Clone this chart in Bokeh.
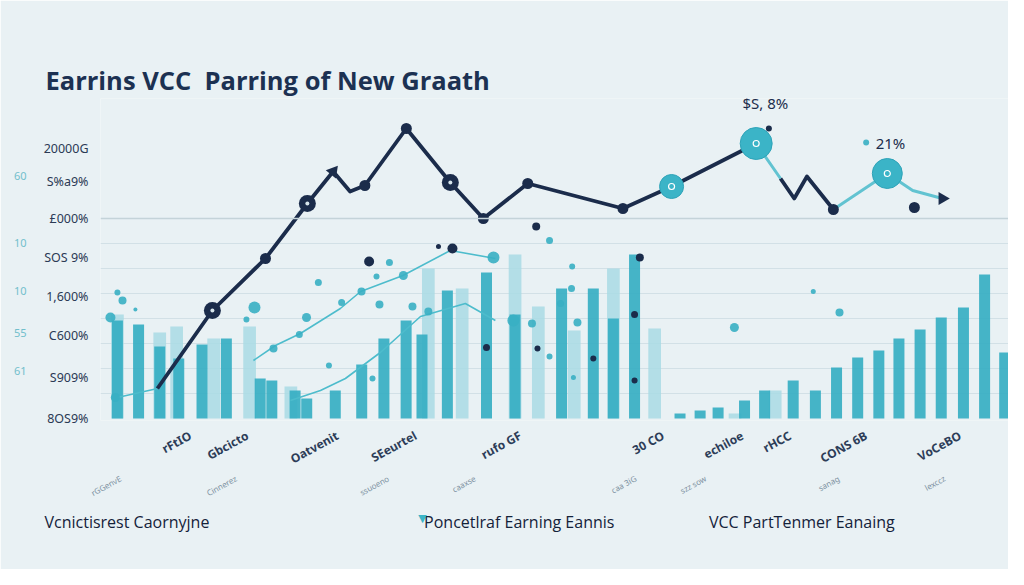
import math
from bokeh.plotting import figure
from bokeh.models import Range1d, FixedTicker, LinearAxis, Span, Label, Title
from bokeh.embed import file_html
from bokeh.resources import INLINE

NAN = float("nan")

# ---------------- data ----------------
title_text = "Earrins VCC\u00a0 Parring of New Graath"
legend_texts = ["Vcnictisrest Caornyjne", "Poncetlraf Earning Eannis", "VCC PartTenmer Eanaing"]
legend_pos = [0.45, 19.0, 32.36]
legend_marker_pos = [14.42]

# left (navy) y tick labels
y_ticks = [0, 20.5, 41.5, 61, 80.5, 100, 118.5, 135]
y_labels = ["8OS9%", "S909%", "C600%", "1,600%", "SOS 9%", "\u00a3000%", "S%a9%", "20000G"]
# outer (teal) y tick labels
y2_ticks = [24, 43, 64, 88, 121.5]
y2_labels = ["61", "55", "10", "10", "60"]
grid_vals = [12.5, 25, 37.5, 50, 62.5, 75, 87.5]

# category labels along the bottom
x_ticks = [3.45, 6.15, 10.4, 14.1, 19.05, 25.8, 29.55, 31.8, 35.4, 39.85]
x_labels = ["rFtIO", "Gbcicto", "Oatvenit", "SEeurtel", "rufo GF", "30 CO", "echiloe", "rHCC", "CONS 6B", "VoCeBO"]
x2_ticks = [0.14, 5.6, 12.8, 16.9, 24.5, 27.8, 34.1, 39.1]
x2_labels = ["rGGenvE", "Cinnerez", "ssuoeno", "caaxse", "caa 3iG", "szz sow", "sanag", "lexccz"]

# bars (solid and pale)
solid_x = [0.0, 1.0, 2.0, 2.9, 4.0, 5.15, 6.75, 7.3, 8.4, 8.95, 10.3, 11.55, 12.6, 13.65, 14.4, 15.6,
           17.45, 18.8, 21.0, 22.5, 23.45, 24.45, 26.6, 27.55, 28.4, 29.65, 30.6, 31.95, 33.0, 34.0,
           35.0, 36.0, 36.95, 37.95, 38.95, 40.0, 41.0, 41.95]
solid_h = [49, 47, 36, 30, 37, 40, 20, 19, 14, 10, 14, 27, 40, 49, 42, 64,
           73, 52, 65, 65, 50, 82, 2.5, 4, 5.5, 9, 14, 19, 14, 25.5,
           30.5, 34, 40, 44.5, 50.5, 55.5, 72, 33]
light_x = [0.0, 2.0, 2.8, 4.55, 6.25, 8.2, 14.7, 16.3, 18.8, 19.9, 21.6, 23.45, 25.4, 29.2, 31.1]
light_h = [52, 43, 46, 40, 46, 16, 75, 65, 82, 56, 44, 75, 45, 2.5, 14]

# main VCC line (navy, with teal stretches)
vcc_x = [1.89, 4.49, 7.0, 8.98, 10.2, 11.0, 11.7, 13.66, 15.74, 17.3, 19.4, 23.9, 26.2, 30.2, NAN,
         31.35, 32.0, 32.6, 33.85]
vcc_y = [15, 54, 80, 107.5, 123.5, 113.5, 116.5, 145, 118, 100, 117.5, 105, 116, 137.5, NAN,
         120, 110, 121, 104.5]
vcc_teal_x = [30.2, 31.35, NAN, 33.85, 36.4, 37.6, 39.0]
vcc_teal_y = [137.5, 120, NAN, 104.5, 122.5, 114, 110]
ring_x = [4.49, 8.98, 15.74]
ring_y = [54, 107.5, 118]
node_x = [7.0, 11.7, 13.66, 17.3, 19.4, 23.9, 33.85, 37.68]
node_y = [80, 116.5, 145, 100, 117.5, 105, 104.5, 105.5]
big_x = [26.2, 30.2, 36.4]
big_y = [116, 137.5, 122.5]
big_s = [24, 32, 30]
arrow_x = [10.2, 39.0]
arrow_y = [123.5, 110]

# secondary earning lines (thin teal)
e1_x = [0.0, 1.9, NAN, 6.43, 7.47, 8.65, 10.54, 11.5, 13.5, 15.74, 17.87]
e1_y = [10.5, 15, NAN, 29, 36.5, 42.5, 55, 63.5, 71.5, 84, 80]
e2_x = [8.18, 9.6, 10.78, 12.43, 14.33, 16.45, 17.87]
e2_y = [9, 14, 20, 33, 51, 57.5, 49]

# scattered observations
teal_dot_x = [0.0, 0.24, -0.33, 0.85, 6.48, 6.1, 8.94, 9.5, 10.6, 11.54, 12.25, 12.86, 12.39, 13.52,
              13.95, 14.7, 17.78, 8.6, 7.38, 10.0, 12.06, -0.1, 20.43, 21.5, 21.47, 20.95, 19.6,
              18.72, 21.75, 29.17, 34.14, 32.9, 20.43, 21.56, 35.4]
teal_dot_y = [63, 59, 50.5, 54.5, 55.5, 49.5, 50.5, 68, 58, 63.5, 71, 78, 57, 71.5,
              56, 53.5, 80.5, 42, 35, 26.5, 20, 10.5, 89, 76, 65, 57.5, 47.5,
              49, 48, 45.5, 53, 63.5, 31, 20.5, 138]
teal_dot_s = [6, 8, 10, 4, 12, 6, 9, 7, 7, 8, 6, 7, 8, 9,
              8, 8, 12, 7, 8, 6, 6, 9, 7, 6, 7, 7, 8,
              12, 8, 9, 8, 5, 6, 5, 6]
navy_dot_x = [11.9, 15.84, 15.18, 19.8, 24.7, 24.45, 17.45, 19.86, 22.5, 24.45, 30.8]
navy_dot_y = [78.5, 85, 86, 96, 80.5, 52, 35.5, 35, 30, 19, 145]
navy_dot_s = [10, 10, 5, 8, 8, 7, 7, 6, 6, 6, 6]

note1 = ("$S, 8%", 29.55, 158)
note2 = ("21%", 35.85, 138)

# ---------------- styles ----------------
BG = "#e9f1f4"
NAVY = "#1b2c4b"
TEAL = "#33adc2"
TEAL_LINE = "#4dbccc"
PALE = "#a9dbe4"
FONT = "Noto Sans"

p = figure(width=1008, height=569, output_backend="svg", toolbar_location=None,
           x_range=Range1d(-0.80, 42.13), y_range=Range1d(-1, 160),
           min_border_left=100, min_border_right=0, min_border_top=98, min_border_bottom=149,
           background_fill_color=BG, border_fill_color=BG, outline_line_color=None)

p.add_layout(Title(text=title_text, align="left", offset=-55, standoff=4,
                   text_font="Open Sans", text_font_size="25.5px", text_font_style="bold",
                   text_color="#1c3152"), "above")

p.xgrid.visible = False
p.ygrid.ticker = FixedTicker(ticks=grid_vals)
p.ygrid.grid_line_color = "#d2e0e6"
p.ygrid.grid_line_width = 1

def style_axis(ax, ticks, labels, color, size, standoff, bold=False, font=FONT):
    ax.ticker = FixedTicker(ticks=ticks, minor_ticks=[])
    ax.major_label_overrides = {t: l for t, l in zip(ticks, labels)}
    ax.axis_line_color = None
    ax.major_tick_line_color = None
    ax.minor_tick_line_color = None
    ax.major_tick_out = 0
    ax.major_tick_in = 0
    ax.major_label_text_color = color
    ax.major_label_text_font = font
    ax.major_label_text_font_size = size
    ax.major_label_standoff = standoff
    if bold:
        ax.major_label_text_font_style = "bold"

style_axis(p.yaxis[0], y_ticks, y_labels, "#2b3a55", "12.5px", 12)
ax2 = LinearAxis()
style_axis(ax2, y2_ticks, y2_labels, "#72bfcc", "11px", 14)
p.add_layout(ax2, "left")

style_axis(p.xaxis[0], x_ticks, x_labels, "#2d3d58", "12px", 14, bold=True)
p.xaxis[0].major_label_orientation = 0.5
ax3 = LinearAxis()
style_axis(ax3, x2_ticks, x2_labels, "#7f93a3", "8px", 0)
ax3.major_label_orientation = 0.5
p.add_layout(ax3, "below")

# legend row (series names)
ax4 = LinearAxis()
style_axis(ax4, legend_pos, legend_texts, "#14223a", "16px", 5, font="Open Sans")
p.add_layout(ax4, "below")
ax5 = LinearAxis()
style_axis(ax5, legend_marker_pos, ["\u25bc"], "#3bb4c7", "11px", -24, font="DejaVu Sans")
p.add_layout(ax5, "below")

p.add_layout(Span(location=100, dimension="width", line_color="#c4d3d9", line_width=1.5))

# bars
p.vbar(x=light_x, top=light_h, bottom=0, width=0.6, color=PALE, alpha=0.85, line_color=None)
p.vbar(x=solid_x, top=solid_h, bottom=0, width=0.52, color=TEAL, alpha=0.9, line_color=None)

# thin teal earning lines
p.line(e1_x, e1_y, line_color=TEAL_LINE, line_width=1.6)
p.line(e2_x, e2_y, line_color=TEAL_LINE, line_width=1.6)

# scattered dots
p.scatter(teal_dot_x, teal_dot_y, size=teal_dot_s, marker="circle", color="#38afc3", line_color=None, alpha=0.9)
p.scatter(navy_dot_x, navy_dot_y, size=navy_dot_s, marker="circle", color=NAVY, line_color=None)

# main line
p.line(vcc_x, vcc_y, line_color=NAVY, line_width=3.8, line_join="round")
p.line(vcc_teal_x, vcc_teal_y, line_color="#62c3d1", line_width=3)
p.scatter(ring_x, ring_y, size=17, marker="circle", color=NAVY, line_color=None)
p.scatter(ring_x, ring_y, size=4, marker="circle", color="#d8e6ec", line_color=None)
p.scatter(node_x, node_y, size=11, marker="circle", color=NAVY, line_color=None)
p.scatter(big_x, big_y, size=big_s, marker="circle", color="#3bb4c7", line_color="#2ea3b8", line_width=1)
p.scatter(big_x, big_y, size=6, marker="circle", fill_color=None, line_color="white", line_width=1.2)
p.scatter(arrow_x, arrow_y, size=13, marker="triangle", angle=[-0.68, -math.pi / 2], color=NAVY, line_color=None)

# notes
for txt, nx, ny in [note1, note2]:
    p.add_layout(Label(x=nx, y=ny, text=txt, text_font=FONT, text_font_size="15px",
                       text_color=NAVY, text_baseline="middle", text_align="left"))

open("out.html", "w").write(file_html(p, INLINE))
